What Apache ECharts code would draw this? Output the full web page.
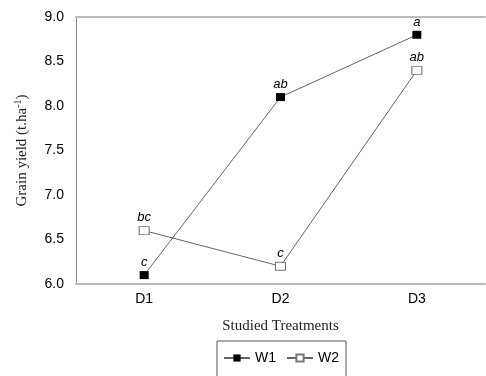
<!DOCTYPE html>
<html>
<head>
<meta charset="utf-8">
<script src="https://cdn.jsdelivr.net/npm/echarts@6/dist/echarts.min.js"></script>
<style>html,body{margin:0;padding:0;background:#fff}#c{width:486px;height:376px}</style>
</head>
<body>
<div id="c"></div>
<script>
var categories = ['D1', 'D2', 'D3'];
var w1Values = [6.1, 8.1, 8.8];
var w2Values = [6.6, 6.2, 8.4];
var w1Letters = ['c', 'ab', 'a'];
var w2Letters = ['bc', 'c', 'ab'];
var yTicks = {min: 6, max: 9, interval: 0.5};

var chart = echarts.init(document.getElementById('c'), null, {renderer: 'canvas'});
function mk(vals, letters) {
  return vals.map(function (v, i) { return {value: v, label: {formatter: letters[i]}}; });
}
var labelStyle = {show: true, position: 'top', distance: 2, color: '#000', fontStyle: 'italic', fontFamily: 'Liberation Sans, Arial', fontSize: 13};
chart.setOption({
  animation: false,
  grid: {left: 76, right: 1, top: 17, bottom: 92},
  xAxis: [{
    type: 'category', data: categories, boundaryGap: true,
    axisLine: {lineStyle: {color: '#bbb', width: 2}},
    axisTick: {alignWithLabel: true, length: 5, lineStyle: {color: '#888'}},
    axisLabel: {color: '#000', fontFamily: 'Liberation Sans, Arial', fontSize: 14, margin: 8},
    name: 'Studied Treatments', nameLocation: 'middle', nameGap: 35,
    nameTextStyle: {color: '#222', fontFamily: 'Liberation Serif, Times New Roman', fontSize: 15}
  }, {
    type: 'category', data: categories, position: 'top',
    axisLine: {lineStyle: {color: '#bbb', width: 2}},
    axisTick: {show: false}, axisLabel: {show: false}
  }],
  yAxis: {
    type: 'value', min: yTicks.min, max: yTicks.max, interval: yTicks.interval,
    splitLine: {show: false},
    axisLine: {show: true, lineStyle: {color: '#888'}},
    axisTick: {show: false},
    axisLabel: {color: '#000', fontFamily: 'Liberation Sans, Arial', fontSize: 14, margin: 12,
      formatter: function (v) { return v.toFixed(1); }},
    name: '{a|Grain yield (t.ha}{s|-1}{a|)}', nameLocation: 'middle', nameGap: 45, nameRotate: 90,
    nameTextStyle: {rich: {
      a: {color: '#222', fontFamily: 'Liberation Serif, Times New Roman', fontSize: 15, lineHeight: 18},
      s: {color: '#222', fontFamily: 'Liberation Serif, Times New Roman', fontSize: 10, verticalAlign: 'top', lineHeight: 18}
    }}
  },
  legend: {
    left: 217, top: 341, orient: 'horizontal',
    padding: [10, 7, 20, 6], itemGap: 10, itemWidth: 26, itemHeight: 9,
    borderColor: '#555', borderWidth: 1,
    textStyle: {color: '#000', fontFamily: 'Liberation Sans, Arial', fontSize: 14},
    data: ['W1', 'W2']
  },
  series: [{
    name: 'W1', type: 'line', data: mk(w1Values, w1Letters),
    symbol: 'rect', symbolSize: [9, 8],
    itemStyle: {color: '#000', borderColor: '#000', borderWidth: 0},
    lineStyle: {color: '#666', width: 1},
    label: labelStyle
  }, {
    name: 'W2', type: 'line', data: mk(w2Values, w2Letters),
    symbol: 'rect', symbolSize: [10, 8],
    itemStyle: {color: '#fff', borderColor: '#777', borderWidth: 1},
    lineStyle: {color: '#666', width: 1},
    label: labelStyle
  }]
});
</script>
</body>
</html>
